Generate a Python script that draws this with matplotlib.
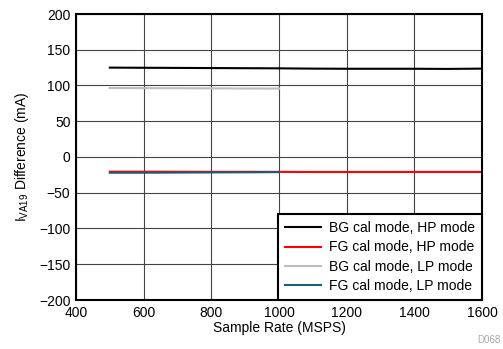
import matplotlib.pyplot as plt

plt.rcParams['font.family'] = ['Liberation Sans', 'DejaVu Sans']

# Sample rates (MSPS)
rate_hp = [500, 600, 700, 800, 900, 1000, 1100, 1200, 1300, 1400, 1500, 1600]
rate_lp = [500, 600, 700, 800, 900, 1000]

bg_hp = [125, 124.8, 124.6, 124.4, 124.2, 124, 123.6, 123.4, 123.4, 123.4, 123.2, 123.6]
fg_hp = [-20.5, -20.5, -20.6, -20.7, -20.7, -20.8, -21, -21, -21, -20.9, -20.9, -20.9]
bg_lp = [96.5, 96.3, 96.2, 96, 95.8, 95.7]
fg_lp = [-22, -22, -21.8, -21.6, -21.4, -21.2]

labels = ['BG cal mode, HP mode', 'FG cal mode, HP mode',
          'BG cal mode, LP mode', 'FG cal mode, LP mode']
colors = ['#000000', '#ff0000', '#bdbdbd', '#1f5a78']

fig = plt.figure(figsize=(5.03, 3.49), dpi=100)
ax = fig.add_axes([76 / 503, 1 - 300 / 349, 406 / 503, 286 / 349])

ax.plot(rate_hp, bg_hp, color=colors[0], lw=1.5, label=labels[0])
ax.plot(rate_hp, fg_hp, color=colors[1], lw=1.5, label=labels[1])
ax.plot(rate_lp, bg_lp, color=colors[2], lw=1.5, label=labels[2])
ax.plot(rate_lp, fg_lp, color=colors[3], lw=1.5, label=labels[3])

ax.set_xlim(400, 1600)
ax.set_ylim(-200, 200)
ax.set_xticks(range(400, 1601, 200))
ax.set_yticks(range(-200, 201, 50))
ax.grid(True, color='#444444', lw=0.8)
ax.tick_params(length=0, labelsize=10, pad=4)
for s in ax.spines.values():
    s.set_linewidth(1.5)

ax.set_xlabel('Sample Rate (MSPS)', fontsize=10, labelpad=1)
ax.set_ylabel('I$_{\\mathregular{VA19}}$ Difference (mA)', fontsize=10, labelpad=6)

leg = ax.legend(loc='lower right', fontsize=10, fancybox=False, framealpha=1,
                borderaxespad=0, handlelength=2.6, handletextpad=0.6,
                labelspacing=0.38, borderpad=0.5)
leg.get_frame().set_edgecolor('black')
leg.get_frame().set_linewidth(1.5)

fig.text(0.995, 1 - 343 / 349, 'D068', fontsize=7, color='#aaaaaa', ha='right')

fig.savefig('out.png', dpi=100)
